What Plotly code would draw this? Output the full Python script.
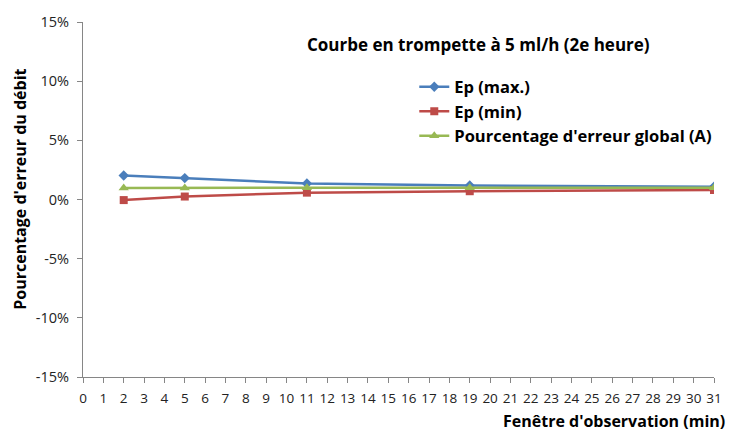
import plotly.graph_objects as go

# Observation windows (min) and error percentages for each curve
windows = [2, 5, 11, 19, 31]
ep_max = [2.03, 1.81, 1.35, 1.18, 1.08]
ep_min = [-0.05, 0.25, 0.58, 0.70, 0.80]
global_err = [0.98, 0.98, 0.99, 0.99, 1.0]

x_ticks = list(range(0, 32))
y_ticks = [-15, -10, -5, 0, 5, 10, 15]
y_tick_labels = [f"{v}%" for v in y_ticks]

FONT = "Open Sans"
TXT = "#000000"

fig = go.Figure()
fig.add_trace(go.Scatter(
    x=windows, y=ep_max, name="Ep (max.)", mode="lines+markers",
    line=dict(color="#4A7EBB", width=2.5),
    marker=dict(symbol="diamond", size=8, color="#4A7EBB"),
))
fig.add_trace(go.Scatter(
    x=windows, y=ep_min, name="Ep (min)", mode="lines+markers",
    line=dict(color="#BE4B48", width=2.5),
    marker=dict(symbol="square", size=8, color="#BE4B48"),
))
fig.add_trace(go.Scatter(
    x=windows, y=global_err, name="Pourcentage d'erreur global (A)", mode="lines+markers",
    line=dict(color="#98B954", width=2.5),
    marker=dict(symbol="triangle-up", size=9, color="#98B954"),
))

fig.update_layout(
    width=734, height=433,
    margin=dict(l=83, r=18, t=17, b=56),
    paper_bgcolor="white", plot_bgcolor="white",
    font=dict(family=FONT, color=TXT),
    showlegend=True,
    legend=dict(
        x=0.525, y=0.866, xanchor="left", yanchor="top",
        bgcolor="rgba(0,0,0,0)",
        font=dict(family=FONT, size=16.5, color=TXT, weight="bold"),
        itemwidth=30, tracegroupgap=0,
    ),
    xaxis=dict(
        range=[0, 31], tickmode="array", tickvals=x_ticks,
        ticktext=[str(v) for v in x_ticks],
        showgrid=False, zeroline=False,
        showline=True, linecolor="#868686", linewidth=1,
        ticks="outside", ticklen=5, tickcolor="#868686",
        ticklabelstandoff=4,
        tickfont=dict(size=13.5, color="#222222"),
    ),
    yaxis=dict(
        range=[-15, 15], tickmode="array", tickvals=y_ticks,
        ticktext=y_tick_labels,
        showgrid=False, zeroline=False,
        showline=True, linecolor="#868686", linewidth=1,
        ticks="outside", ticklen=5, tickcolor="#868686",
        ticklabelstandoff=5,
        tickfont=dict(size=14.5, color="#222222"),
    ),
    annotations=[
        dict(text="Courbe en trompette à 5 ml/h (2e heure)",
             xref="paper", yref="paper", x=0.352, y=0.937,
             xanchor="left", yanchor="middle", showarrow=False,
             font=dict(family=FONT, size=17, color=TXT, weight="bold")),
        dict(text="Fenêtre d'observation (min)",
             xref="paper", yref="paper", x=1.02, y=-0.125,
             xanchor="right", yanchor="middle", showarrow=False,
             font=dict(family=FONT, size=16, color=TXT, weight="bold")),
        dict(text="Pourcentage d'erreur du débit",
             xref="paper", yref="paper", x=-0.1, y=0.53,
             xanchor="center", yanchor="middle", showarrow=False, textangle=-90,
             font=dict(family=FONT, size=16, color=TXT, weight="bold")),
    ],
)

fig.write_html("out.html")
